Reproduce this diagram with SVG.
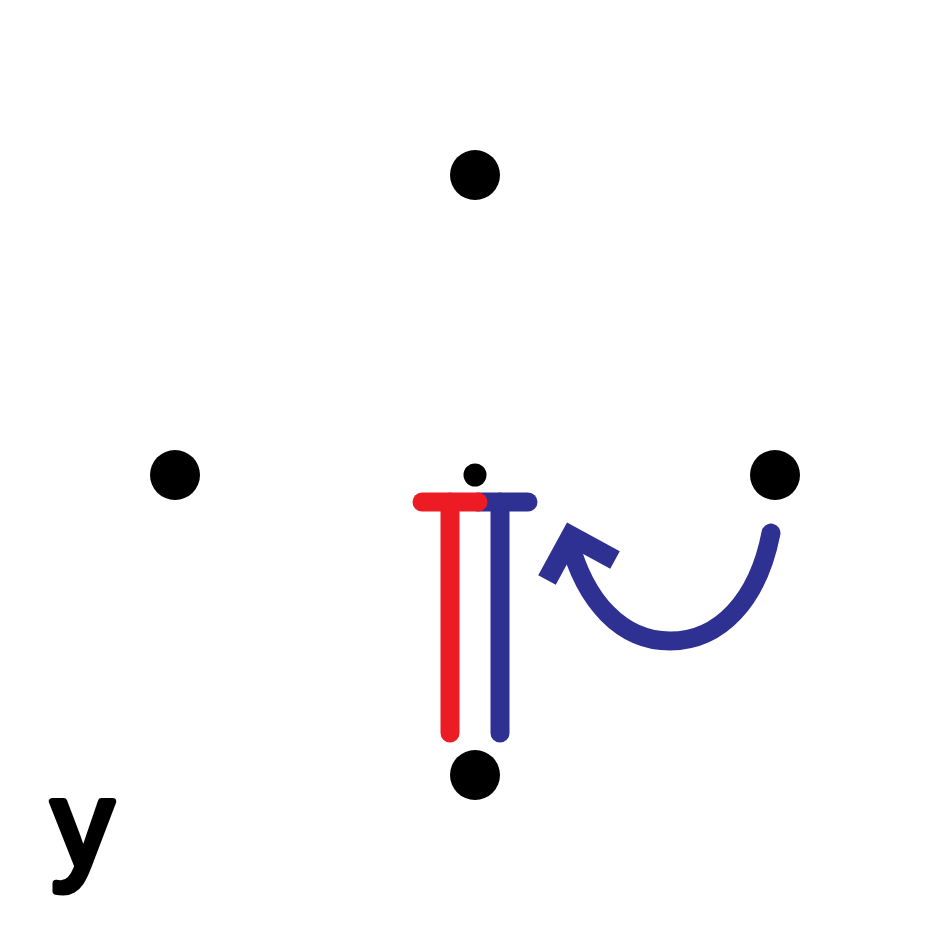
<svg xmlns="http://www.w3.org/2000/svg" width="950" height="950" viewBox="0 0 950 950">
<style>
.dot{fill:#000}
.red{stroke:#ed1c24;stroke-width:19;stroke-linecap:round;fill:none}
.blue{stroke:#2e3192;stroke-width:19;stroke-linecap:round;fill:none}
.lbl{font-family:"Liberation Sans",Arial,sans-serif;font-weight:normal;font-size:122px;fill:#000;stroke:#000;stroke-width:7;stroke-linejoin:round}
</style>
<rect width="950" height="950" fill="#fff"/>
<g id="node-top"><circle class="dot" cx="475" cy="175" r="25"/></g>
<g id="node-left"><circle class="dot" cx="175" cy="475" r="25"/></g>
<g id="node-right"><circle class="dot" cx="775" cy="475" r="25"/></g>
<g id="node-bottom"><circle class="dot" cx="475" cy="775" r="25"/></g>
<g id="node-center"><circle class="dot" cx="475" cy="475" r="11.5"/></g>
<g id="connectors">
  <g id="blue-T">
    <line class="blue" x1="478" y1="502" x2="528" y2="502"/>
    <line class="blue" x1="500" y1="502" x2="500" y2="733"/>
  </g>
  <g id="red-T">
    <line class="red" x1="422" y1="502" x2="478" y2="502"/>
    <line class="red" x1="450" y1="502" x2="450" y2="733"/>
  </g>
  <g id="curved-arrow">
    <path class="blue" stroke-width="22" d="M771 533 C758 600 720 641 670 641 C622 641 585 602 569 540"/>
    <polyline points="547,580 571,536 615,560" fill="none" stroke="#2e3192" stroke-width="20" stroke-linejoin="miter" stroke-linecap="butt"/>
  </g>
</g>
<g id="label-y"><text class="lbl" x="52" y="867">y</text></g>
</svg>
